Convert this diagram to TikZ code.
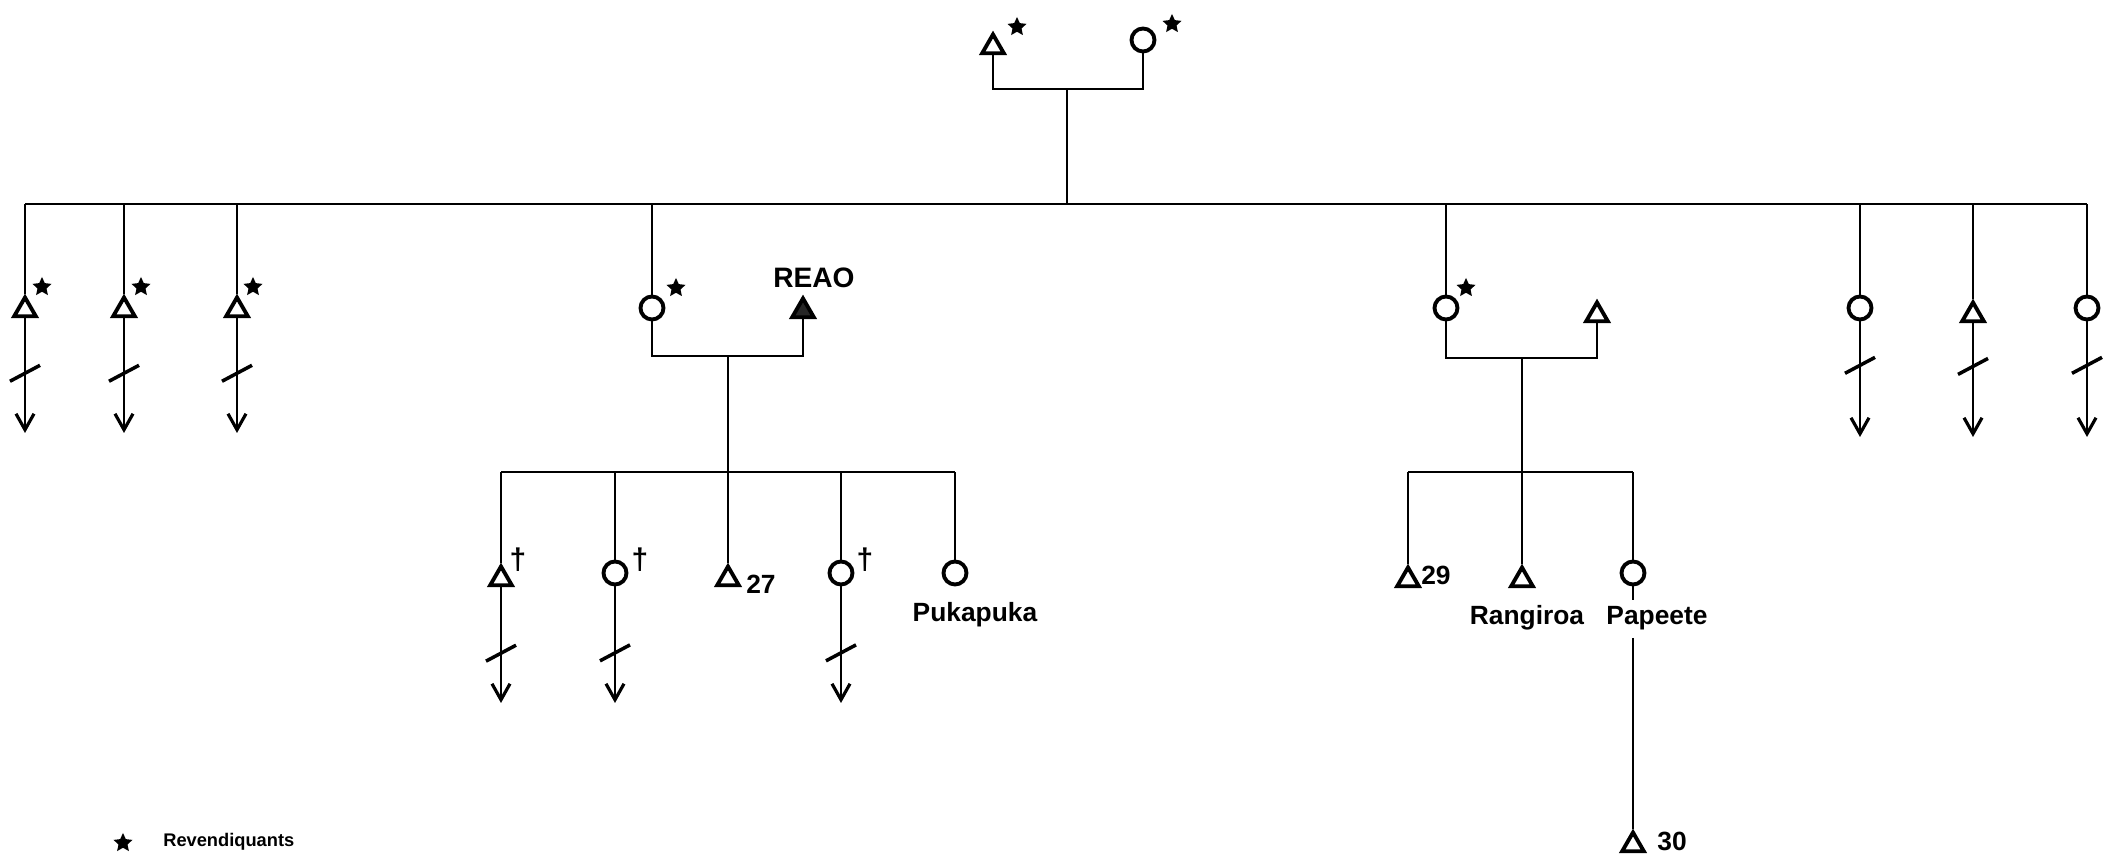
\documentclass[tikz,border=0pt]{standalone}
\usepackage{fontspec}
\setmainfont{Liberation Sans}
\usetikzlibrary{shapes.geometric,arrows.meta}

\begin{document}
\begin{tikzpicture}[
  x=0.1mm, y=-0.1mm, line width=0.75pt,
  >={Straight Barb[length=1.6mm,width=1.8mm,line width=0.9pt]},
  male/.style   = {draw, regular polygon, regular polygon sides=3,
                   minimum size=2.5mm, inner sep=0pt, line width=1.1pt},
  female/.style = {draw, circle, minimum size=2.3mm, inner sep=0pt,
                   line width=1.1pt},
  claim/.style  = {star, star points=5, star point ratio=2.1, fill,
                   minimum size=2mm, inner sep=0pt},
  dead/.style   = {inner sep=0pt, font=\bfseries\fontsize{8.5}{9}\selectfont},
  lbl/.style    = {inner sep=0pt, font=\bfseries\fontsize{7.5}{9}\selectfont},
  cut/.style    = {draw, rotate=28, minimum width=3.4mm, minimum height=0pt,
                   inner sep=0pt, line width=1pt}
]
\useasboundingbox (0,0) rectangle (2105,855);

% parents
\node[male]   (fa) at (993,47)  {};
\node[female] (ma) at (1143,40) {};
\node[claim] (fa-c) at (1017,27) {};
\node[claim] (ma-c) at (1172,24) {};
\coordinate (fam0) at (1067,89);
\coordinate (sib) at (1067,204);
\coordinate (bar-w) at (25,204);
\coordinate (bar-e) at (2087,204);
\draw (fa.south) |- (fam0) -| (ma.south);
\draw (fam0) -- (sib);
\draw (bar-w) -- (bar-e);

% siblings
\node[male]   (s1) at (25,310)   {};
\node[male]   (s2) at (124,310)  {};
\node[male]   (s3) at (237,310)  {};
\node[female] (s4) at (652,308)  {};
\node[female] (s5) at (1446,308) {};
\node[female] (s6) at (1860,308) {};
\node[male]   (s7) at (1973,315) {};
\node[female] (s8) at (2087,308) {};
\node[claim] (s1-c) at (42,287)   {};
\node[claim] (s2-c) at (141,287)  {};
\node[claim] (s3-c) at (253,287)  {};
\node[claim] (s4-c) at (676,288)  {};
\node[claim] (s5-c) at (1466,288) {};

\draw (s1.north) -- (s1.north |- bar-w);
\draw (s2.north) -- (s2.north |- bar-w);
\draw (s3.north) -- (s3.north |- bar-w);
\draw (s4.north) -- (s4.north |- bar-w);
\draw (s5.north) -- (s5.north |- bar-w);
\draw (s6.north) -- (s6.north |- bar-w);
\draw (s7.north) -- (s7.north |- bar-w);
\draw (s8.north) -- (s8.north |- bar-w);

\coordinate (s1-e) at (25,433);
\coordinate (s2-e) at (124,433);
\coordinate (s3-e) at (237,433);
\coordinate (s6-e) at (1860,437);
\coordinate (s7-e) at (1973,437);
\coordinate (s8-e) at (2087,437);
\draw[->] (s1.south) -- node[cut, pos=.48] (s1-x) {} (s1-e);
\draw[->] (s2.south) -- node[cut, pos=.48] (s2-x) {} (s2-e);
\draw[->] (s3.south) -- node[cut, pos=.48] (s3-x) {} (s3-e);
\draw[->] (s6.south) -- node[cut, pos=.38] (s6-x) {} (s6-e);
\draw[->] (s7.south) -- node[cut, pos=.38] (s7-x) {} (s7-e);
\draw[->] (s8.south) -- node[cut, pos=.38] (s8-x) {} (s8-e);

% REAO family
\node[male, fill=black!85] (reao) at (803,311) {};
\node[lbl, font=\bfseries\fontsize{8}{9}\selectfont, anchor=base] (reao-l) at (814,288) {REAO};
\coordinate (fam1) at (728,356);
\coordinate (kid1) at (728,472);
\draw (s4.south) |- (fam1) -| (reao.south);
\draw (fam1) -- (kid1);

\node[male]   (k1) at (501,579) {};
\node[female] (k2) at (615,573) {};
\node[male]   (k3) at (728,579) {};
\node[female] (k4) at (841,573) {};
\node[female] (k5) at (955,573) {};
\node[dead] (k1-d) at (518,560) {\textdagger};
\node[dead] (k2-d) at (640,560) {\textdagger};
\node[dead] (k4-d) at (865,560) {\textdagger};
\node[lbl, anchor=base west] (k3-l) at (745,594) {27};
\node[lbl, anchor=base] (k5-l) at (975,622) {Pukapuka};

\draw (k1.north |- kid1) -- (k5.north |- kid1);
\draw (k1.north) -- (k1.north |- kid1);
\draw (k2.north) -- (k2.north |- kid1);
\draw (k3.north) -- (k3.north |- kid1);
\draw (k4.north) -- (k4.north |- kid1);
\draw (k5.north) -- (k5.north |- kid1);

\coordinate (k1-e) at (501,703);
\coordinate (k2-e) at (615,703);
\coordinate (k4-e) at (841,703);
\draw[->] (k1.south) -- node[cut, pos=.57] (k1-x) {} (k1-e);
\draw[->] (k2.south) -- node[cut, pos=.57] (k2-x) {} (k2-e);
\draw[->] (k4.south) -- node[cut, pos=.57] (k4-x) {} (k4-e);

% second family
\node[male] (sp2) at (1597,315) {};
\coordinate (fam2) at (1522,358);
\coordinate (kid2) at (1522,472);
\draw (s5.south) |- (fam2) -| (sp2.south);
\draw (fam2) -- (kid2);

\node[male]   (j1) at (1408,580) {};
\node[male]   (j2) at (1522,580) {};
\node[female] (j3) at (1633,573) {};
\node[lbl, anchor=base west] (j1-l) at (1420,585) {29};
\node[lbl, anchor=base] (j2-l) at (1527,625) {Rangiroa};
\node[lbl, inner ysep=0.6mm, anchor=base] (j3-l) at (1657,625) {Papeete};

\draw (j1.north |- kid2) -- (j3.north |- kid2);
\draw (j1.north) -- (j1.north |- kid2);
\draw (j2.north) -- (j2.north |- kid2);
\draw (j3.north) -- (j3.north |- kid2);

\node[male] (g1) at (1633,845) {};
\node[lbl, anchor=base] (g1-l) at (1672,851) {30};
\draw (j3.south) -- (j3.south |- j3-l.north);
\draw (j3.south |- j3-l.south) -- (g1.north);

% key
\node[claim] (key-c) at (123,843) {};
\node[lbl, font=\bfseries\fontsize{5.2}{6}\selectfont, anchor=base west] (key) at (162,847) {Revendiquants};

\end{tikzpicture}
\end{document}
